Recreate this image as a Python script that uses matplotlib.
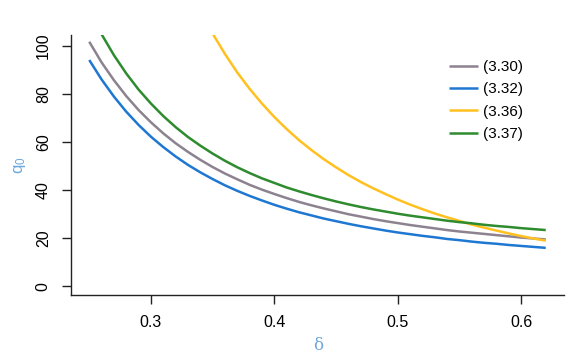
import matplotlib
matplotlib.use("Agg")
import matplotlib.pyplot as plt

delta = [0.25, 0.26, 0.27, 0.28, 0.29, 0.30, 0.31, 0.32, 0.33, 0.34, 0.35, 0.36, 0.37,
         0.38, 0.39, 0.40, 0.41, 0.42, 0.43, 0.44, 0.45, 0.46, 0.47, 0.48, 0.49, 0.50,
         0.51, 0.52, 0.53, 0.54, 0.55, 0.56, 0.57, 0.58, 0.59, 0.60, 0.61, 0.62]

q_330 = [101.6, 93.0, 85.6, 79.0, 73.2, 68.1, 63.5, 59.4, 55.8, 52.5, 49.5, 46.8, 44.4,
         42.1, 40.1, 38.3, 36.6, 35.0, 33.6, 32.3, 31.1, 29.9, 28.9, 27.9, 27.0, 26.2,
         25.4, 24.7, 24.0, 23.3, 22.7, 22.2, 21.7, 21.2, 20.7, 20.2, 19.8, 19.4]

q_332 = [94.0, 85.9, 78.8, 72.5, 67.0, 62.1, 57.8, 53.9, 50.4, 47.3, 44.5, 41.9, 39.6,
         37.5, 35.6, 33.8, 32.2, 30.7, 29.4, 28.1, 27.0, 25.9, 24.9, 24.0, 23.1, 22.3,
         21.6, 20.9, 20.3, 19.6, 19.1, 18.5, 18.0, 17.6, 17.1, 16.7, 16.3, 15.9]

delta_336 = [0.34, 0.35, 0.36, 0.37, 0.38, 0.39, 0.40, 0.41, 0.42, 0.43, 0.44, 0.45, 0.46,
             0.47, 0.48, 0.49, 0.50, 0.51, 0.52, 0.53, 0.54, 0.55, 0.56, 0.57, 0.58, 0.59,
             0.60, 0.61, 0.62]
q_336 = [114.5, 105.0, 96.5, 88.8, 82.0, 75.9, 70.3, 65.3, 60.7, 56.6, 52.8, 49.4, 46.2,
         43.3, 40.7, 38.3, 36.0, 33.9, 32.0, 30.2, 28.6, 27.1, 25.6, 24.3, 23.1, 21.9,
         20.8, 19.8, 18.9]

q_337 = [114.8, 104.7, 96.0, 88.4, 81.7, 75.9, 70.7, 66.1, 62.0, 58.4, 55.1, 52.1, 49.4,
         47.0, 44.8, 42.9, 41.0, 39.4, 37.9, 36.5, 35.2, 34.0, 32.9, 31.9, 31.0, 30.1,
         29.3, 28.6, 27.9, 27.2, 26.6, 26.1, 25.5, 25.0, 24.6, 24.1, 23.7, 23.3]

labels = ["(3.30)", "(3.32)", "(3.36)", "(3.37)"]
colors = ["#8c8290", "#1e78d2", "#ffc020", "#2e8b2e"]
xticks = [0.3, 0.4, 0.5, 0.6]
yticks = [0, 20, 40, 60, 80, 100]

plt.rcParams['font.family'] = ['Liberation Sans', 'DejaVu Sans']

fig = plt.figure(figsize=(5.84, 3.60), dpi=100)
ax = fig.add_axes([71/584, 1-295/360, (564-71)/584, (295-35)/360])

series = [(delta, q_330), (delta, q_332), (delta_336, q_336), (delta, q_337)]
for (xs, ys), lab, c in zip(series, labels, colors):
    ax.plot(xs, ys, color=c, lw=1.8, label=lab, solid_capstyle='butt')

ax.set_xlim(0.2352, 0.6348)
ax.set_ylim(-3.7, 104.4)
ax.set_xticks(xticks)
ax.set_xticklabels([str(t) for t in xticks])
ax.set_yticks(yticks)
ax.set_yticklabels([str(t) for t in yticks], rotation=90, va='center')

for s in ['top', 'right']:
    ax.spines[s].set_visible(False)
for s in ['left', 'bottom']:
    ax.spines[s].set_linewidth(1.0)
    ax.spines[s].set_color('#222222')
ax.tick_params(direction='out', length=6.5, width=1.0, colors='#222222',
               labelsize=11.5, labelcolor='black', pad=8)

lab_color = '#6ea8dc'
ax.set_xlabel('δ', color=lab_color, fontsize=12, family=['DejaVu Serif'])
ax.xaxis.set_label_coords((317.7-71)/493, (295-345)/260)
ax.xaxis.label.set_va('center')
ax.set_ylabel(r'$\mathregular{q_0}$', color=lab_color, fontsize=12)
ax.yaxis.set_label_coords((20-71)/493, (295-165)/260)
ax.yaxis.label.set_va('center')

leg = ax.legend(loc='upper left', bbox_to_anchor=((449-71)/493, 1-25/260), frameon=False,
                fontsize=11, handlelength=1.9, handletextpad=0.35, labelspacing=0.55,
                borderaxespad=0, borderpad=0)

fig.savefig("out.png", dpi=100)
